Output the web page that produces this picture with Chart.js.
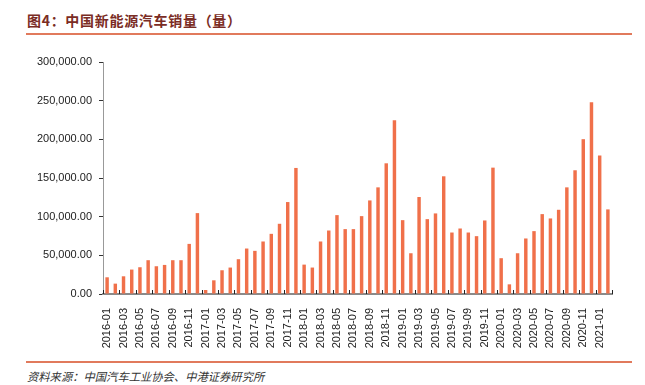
<!DOCTYPE html>
<html>
<head>
<meta charset="utf-8">
<script src="https://cdn.jsdelivr.net/npm/chart.js@4.4.1/dist/chart.umd.min.js"></script>
<style>
    body { margin: 0; background: #fff; width: 645px; height: 385px; overflow: hidden; position: relative; }
    #title { position: absolute; left: 27px; top: 10px; font: bold 14px "Noto Sans CJK SC", sans-serif; letter-spacing: 0.7px; color: #7a2c24; white-space: nowrap; }
    .rule { position: absolute; left: 26px; width: 606px; height: 1.5px; background: #e17a5c; }
    #source { position: absolute; left: 27px; top: 368px; font: italic 11.3px "Noto Sans CJK SC", sans-serif; color: #333; white-space: nowrap; }
    #wrap { position: absolute; left: 0; top: 0; width: 645px; height: 385px; }
</style>
</head>
<body>
<div id="title">图4：中国新能源汽车销量（量）</div>
<div class="rule" style="top:33px"></div>
<div class="rule" style="top:361px"></div>
<div id="source">资料来源：中国汽车工业协会、中港证券研究所</div>
<div id="wrap"><canvas id="chart"></canvas></div>
<script>
// Monthly labels 2016-01 .. 2021-02
const months = [];
for (let y = 2016; y <= 2021; y++) {
    for (let m = 1; m <= 12; m++) {
        if (y === 2021 && m > 2) break;
        months.push(`${y}-${String(m).padStart(2, '0')}`);
    }
}

// Sales (units)
const sales2016 = [21600, 13400, 22900, 31600, 34600, 43700, 35900, 37600, 43700, 43700, 64800, 104600];
const sales2017 = [5200, 17700, 30700, 34200, 45000, 58800, 55800, 67900, 77800, 90800, 118900, 163000];
const sales2018 = [38000, 34200, 67900, 82100, 102000, 83900, 83900, 100700, 121000, 137900, 169000, 224800];
const sales2019 = [95500, 52700, 125400, 96800, 104200, 152200, 79500, 84700, 79500, 74800, 95100, 163400];
const sales2020 = [46300, 12500, 52700, 71800, 81300, 103300, 97700, 108900, 137900, 160000, 200200, 248100];
const sales2021 = [179000, 109400];
const sales = [...sales2016, ...sales2017, ...sales2018, ...sales2019, ...sales2020, ...sales2021];

const yMax = 300000;
const yStep = 50000;

// small inward tick marks on the x axis, every second category
const xTicks = {
    id: 'xTicks',
    afterDraw(chart) {
        const x = chart.scales.x;
        const ctx = chart.ctx;
        const half = (x.getPixelForValue(1) - x.getPixelForValue(0)) / 2;
        const bottom = chart.chartArea.bottom;
        ctx.save();
        ctx.strokeStyle = '#222';
        ctx.lineWidth = 1;
        ctx.beginPath();
        for (let i = 0; i <= months.length; i += 2) {
            const px = Math.round(x.getPixelForValue(Math.min(i, months.length - 1)) + (i >= months.length ? half : -half)) + 0.5;
            ctx.moveTo(px, bottom);
            ctx.lineTo(px, bottom - 4);
        }
        ctx.stroke();
        ctx.restore();
    }
};

new Chart(document.getElementById('chart'), {
    type: 'bar',
    data: {
        labels: months,
        datasets: [{
            data: sales,
            backgroundColor: '#f0704a',
            barPercentage: 0.42,
            categoryPercentage: 1
        }]
    },
    options: {
        responsive: true,
        maintainAspectRatio: false,
        animation: false,
        layout: { padding: { left: 0, right: 33, top: 62, bottom: 0 } },
        plugins: { legend: { display: false }, tooltip: { enabled: false } },
        scales: {
            x: {
                afterFit: s => { s.height = 91; },
                grid: { display: false },
                border: { display: true, color: '#8a8a8a', width: 2 },
                ticks: {
                    autoSkip: false,
                    minRotation: 90,
                    maxRotation: 90,
                    padding: 6,
                    color: '#222',
                    font: { family: 'Liberation Sans', size: 11 },
                    callback: (v, i) => i % 2 === 0 ? months[i] : ''
                }
            },
            y: {
                min: 0,
                max: yMax,
                afterFit: s => { s.width = 103; },
                grid: { drawOnChartArea: false, drawTicks: true, tickLength: 4, color: '#333' },
                border: { display: true, color: '#999', width: 1 },
                ticks: {
                    stepSize: yStep,
                    padding: 7,
                    color: '#222',
                    font: { family: 'Liberation Sans', size: 11 },
                    callback: v => v.toLocaleString('en-US', { minimumFractionDigits: 2, maximumFractionDigits: 2 })
                }
            }
        }
    },
    plugins: [xTicks]
});
</script>
</body>
</html>
